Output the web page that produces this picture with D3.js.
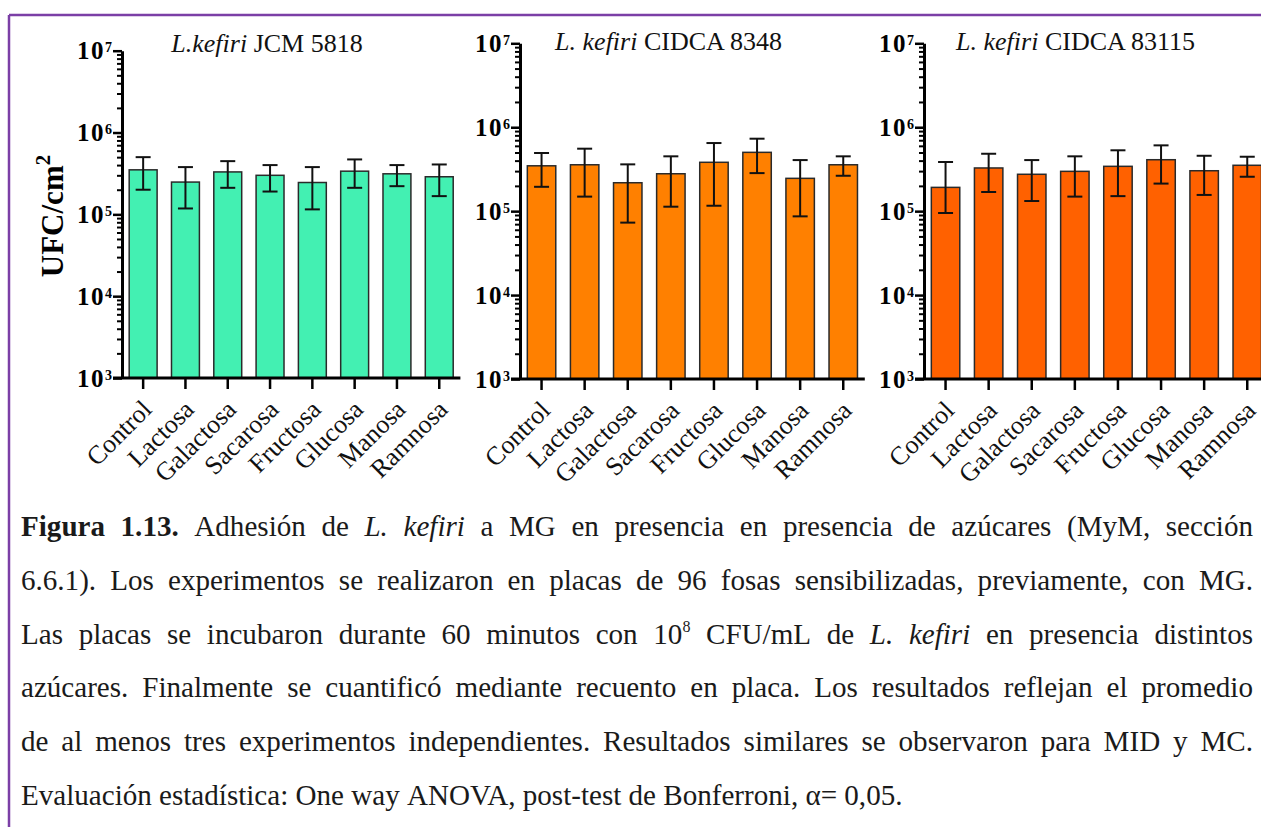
<!DOCTYPE html>
<html><head><meta charset="utf-8">
<script src="https://cdn.jsdelivr.net/npm/d3@7"></script>
<style>body{margin:0;background:#fff} svg{display:block} svg text{font-family:"Liberation Serif","DejaVu Serif",serif;}</style>
</head><body><svg id="c" width="1261" height="827"></svg>
<script>
// ---------- data ----------
const categories = ["Control","Lactosa","Galactosa","Sacarosa","Fructosa","Glucosa","Manosa","Ramnosa"];
const titleItalic = ["L.kefiri", "L. kefiri", "L. kefiri"];
const titleRest = [" JCM 5818", " CIDCA 8348", " CIDCA 83115"];
const yTickExponents = [3, 4, 5, 6, 7];
const yAxisLabel = "UFC/cm";
const yAxisLabelSup = "2";

// JCM 5818
const meanJCM5818 = [3.5e5, 2.48e5, 3.3e5, 3.0e5, 2.45e5, 3.37e5, 3.13e5, 2.88e5];
const highJCM5818 = [5.0e5, 3.78e5, 4.47e5, 4.0e5, 3.78e5, 4.69e5, 4.0e5, 4.07e5];
const lowJCM5818  = [2.0e5, 1.18e5, 2.11e5, 1.9e5, 1.15e5, 2.11e5, 2.21e5, 1.67e5];
// CIDCA 8348
const mean8348 = [3.47e5, 3.57e5, 2.18e5, 2.79e5, 3.82e5, 5.02e5, 2.46e5, 3.57e5];
const high8348 = [4.93e5, 5.55e5, 3.61e5, 4.5e5, 6.48e5, 7.3e5, 4.06e5, 4.5e5];
const low8348  = [1.95e5, 1.49e5, 7.3e4, 1.13e5, 1.16e5, 2.84e5, 8.67e4, 2.64e5];
// CIDCA 83115
const mean83115 = [1.92e5, 3.27e5, 2.75e5, 2.98e5, 3.42e5, 4.1e5, 3.03e5, 3.52e5];
const high83115 = [3.85e5, 4.83e5, 4.06e5, 4.5e5, 5.31e5, 6.08e5, 4.57e5, 4.45e5];
const low83115  = [9.5e4, 1.69e5, 1.32e5, 1.49e5, 1.51e5, 2.13e5, 1.56e5, 2.57e5];

const captionLines = [
 "**Figura 1.13.** Adhesión de *L. kefiri* a MG en presencia en presencia de azúcares (MyM, sección",
 "6.6.1). Los experimentos se realizaron en placas de 96 fosas sensibilizadas, previamente, con MG.",
 "Las placas se incubaron durante 60 minutos con 10^8^ CFU/mL de *L. kefiri* en presencia distintos",
 "azúcares. Finalmente se cuantificó mediante recuento en placa. Los resultados reflejan el promedio",
 "de al menos tres experimentos independientes. Resultados similares se observaron para MID y MC.",
 "Evaluación estadística: One way ANOVA, post-test de Bonferroni, α= 0,05."
];

// ---------- layout ----------
const panels = [
  {mean: meanJCM5818, high: highJCM5818, low: lowJCM5818, color: "#43F0B2",
   x0: 122, x1: 460.4, yTop: 50.7, yBot: 378, titleX: 267, titleY: 52},
  {mean: mean8348, high: high8348, low: low8348, color: "#FF8000",
   x0: 520, x1: 864.8, yTop: 43.3, yBot: 379, titleX: 668.5, titleY: 50},
  {mean: mean83115, high: high83115, low: low83115, color: "#FF6100",
   x0: 924, x1: 1268.8, yTop: 43.3, yBot: 379, titleX: 1075.5, titleY: 50}
];

const svg = d3.select("#c");

// border
svg.append("line").attr("x1", 9).attr("y1", 15).attr("x2", 1261).attr("y2", 15)
  .attr("stroke", "#7B3FA6").attr("stroke-width", 2.5);
svg.append("line").attr("x1", 9).attr("y1", 15).attr("x2", 9).attr("y2", 827)
  .attr("stroke", "#7B3FA6").attr("stroke-width", 2.5);

const majors = yTickExponents.map(e => Math.pow(10, e));
const minors = [];
for (let e = 3; e < 7; e++) for (let k = 2; k <= 9; k++) minors.push(k * Math.pow(10, e));

panels.forEach((p, pi) => {
  const g = svg.append("g");
  const x = d3.scaleBand().domain(categories).range([p.x0, p.x1]).paddingInner(0.34).paddingOuter(0.17);
  const y = d3.scaleLog().domain([1e3, 1e7]).range([p.yBot, p.yTop]);
  const bw = x.bandwidth();

  // bars
  g.selectAll("rect.bar").data(categories).join("rect").attr("class", "bar")
    .attr("x", c => x(c)).attr("width", bw)
    .attr("y", (c, i) => y(p.mean[i])).attr("height", (c, i) => p.yBot - y(p.mean[i]))
    .attr("fill", p.color).attr("stroke", "#2a2a2a").attr("stroke-width", 1.5);

  // error bars
  const cap = 7.5;
  categories.forEach((c, i) => {
    const cx = x(c) + bw / 2;
    const eg = g.append("g").attr("stroke", "#111").attr("stroke-width", 2);
    eg.append("line").attr("x1", cx).attr("x2", cx).attr("y1", y(p.low[i])).attr("y2", y(p.high[i]));
    eg.append("line").attr("x1", cx - cap).attr("x2", cx + cap).attr("y1", y(p.low[i])).attr("y2", y(p.low[i]));
    eg.append("line").attr("x1", cx - cap).attr("x2", cx + cap).attr("y1", y(p.high[i])).attr("y2", y(p.high[i]));
  });

  // y axis
  const ya = g.append("g").attr("transform", `translate(${p.x0},0)`)
    .call(d3.axisLeft(y).tickValues(majors).tickSize(9).tickSizeOuter(0).tickFormat(""));
  ya.select(".domain").attr("stroke", "#000").attr("stroke-width", 3);
  ya.selectAll(".tick line").attr("stroke", "#000").attr("stroke-width", 2.5);
  const ym = g.append("g").attr("transform", `translate(${p.x0},0)`)
    .call(d3.axisLeft(y).tickValues(minors).tickSize(5).tickFormat(""));
  ym.select(".domain").remove();
  ym.selectAll(".tick line").attr("stroke", "#000").attr("stroke-width", 2);

  // y tick labels
  majors.forEach((v, k) => {
    const t = g.append("text").attr("x", p.x0 - 10).attr("y", y(v) + 8.5)
      .attr("text-anchor", "end").attr("font-weight", "bold")
      .attr("font-size", 25).attr("fill", "#000");
    t.append("tspan").attr("letter-spacing", 1.5).text("10");
    t.append("tspan").attr("font-size", 14).attr("dy", -7).text(String(yTickExponents[k]));
  });

  // x axis
  const xa = g.append("g").attr("transform", `translate(0,${p.yBot})`)
    .call(d3.axisBottom(x).tickSize(11).tickSizeOuter(0).tickFormat(""));
  xa.select(".domain").remove();
  xa.selectAll(".tick line").attr("stroke", "#000").attr("stroke-width", 2.5);
  g.append("line").attr("x1", p.x0 - 9).attr("x2", p.x1).attr("y1", p.yBot).attr("y2", p.yBot)
    .attr("stroke", "#000").attr("stroke-width", 3);

  // x labels
  g.selectAll("text.xl").data(categories).join("text").attr("class", "xl")
    .attr("transform", c => `translate(${x(c) + bw / 2 + 10},${p.yBot + 33}) rotate(-45)`)
    .attr("text-anchor", "end").attr("font-size", 26)
    .attr("fill", "#111").text(c => c);

  // title
  const tt = g.append("text").attr("x", p.titleX).attr("y", p.titleY).attr("text-anchor", "middle")
    .attr("font-size", 26).attr("fill", "#111");
  tt.append("tspan").attr("font-style", "italic").text(titleItalic[pi]);
  tt.append("tspan").text(titleRest[pi]);
});

// y axis label
const yl = svg.append("text").attr("transform", "translate(63,216) rotate(-90)")
  .attr("text-anchor", "middle").attr("font-weight", "bold")
  .attr("font-size", 31).attr("fill", "#000");
yl.append("tspan").text(yAxisLabel);
yl.append("tspan").attr("font-size", 21).attr("dy", -13).text(yAxisLabelSup);

// ---------- caption ----------
function parseLine(s) {
  const parts = s.split(/(\*\*[^*]+\*\*|\*[^*]+\*|\^[^^]+\^)/).filter(d => d.length);
  const runs = parts.map(pt => {
    if (pt.startsWith("**")) return {t: pt.slice(2, -2), s: "b"};
    if (pt.startsWith("*")) return {t: pt.slice(1, -1), s: "i"};
    if (pt.startsWith("^")) return {t: pt.slice(1, -1), s: "sup"};
    return {t: pt, s: "n"};
  });
  const words = [[]];
  runs.forEach(r => {
    const pieces = r.t.split(" ");
    pieces.forEach((pc, k) => {
      if (k > 0) words.push([]);
      if (pc.length) words[words.length - 1].push({t: pc, s: r.s});
    });
  });
  return words.filter(w => w.length);
}

const capLeft = 21, capRight = 1253, lastLineWidth = 882;
const baselines = [536, 590, 644, 697, 751, 805];
const capG = svg.append("g").attr("fill", "#1a1a1a");

function buildLine(words, fs, by) {
  const t = capG.append("text").attr("y", by).attr("font-size", fs);
  const wordEls = words.map(w => w.map(r => {
    const ts = t.append("tspan").text(r.t);
    if (r.s === "b") ts.attr("font-weight", "bold");
    if (r.s === "i") ts.attr("font-style", "italic");
    if (r.s === "sup") ts.attr("font-size", fs * 0.55).attr("y", by - fs * 0.42);
    else ts.attr("y", by);
    return ts;
  }));
  const widths = wordEls.map(ws => d3.sum(ws, ts => ts.node().getComputedTextLength()));
  return {t, wordEls, widths};
}
function spaceWidth(fs) {
  const a = capG.append("text").attr("font-size", fs).text("a a");
  const b = capG.append("text").attr("font-size", fs).text("aa");
  const w = a.node().getComputedTextLength() - b.node().getComputedTextLength();
  a.remove(); b.remove();
  return w;
}

// fit caption font size so the last (unjustified) line matches
let fs = 24;
{
  const tmp = buildLine(parseLine(captionLines[5]), fs, -100);
  const nat = d3.sum(tmp.widths) + spaceWidth(fs) * (tmp.widths.length - 1);
  tmp.t.remove();
  fs = fs * lastLineWidth / nat;
}
const sw = spaceWidth(fs);
captionLines.forEach((line, li) => {
  const words = parseLine(line);
  const L = buildLine(words, fs, baselines[li]);
  const n = words.length;
  const total = d3.sum(L.widths);
  const gap = (li < captionLines.length - 1 && n > 1) ? (capRight - capLeft - total) / (n - 1) : sw;
  let xpos = capLeft;
  L.wordEls.forEach((ws, k) => {
    ws[0].attr("x", xpos);
    xpos += L.widths[k] + gap;
  });
});
</script></body></html>
